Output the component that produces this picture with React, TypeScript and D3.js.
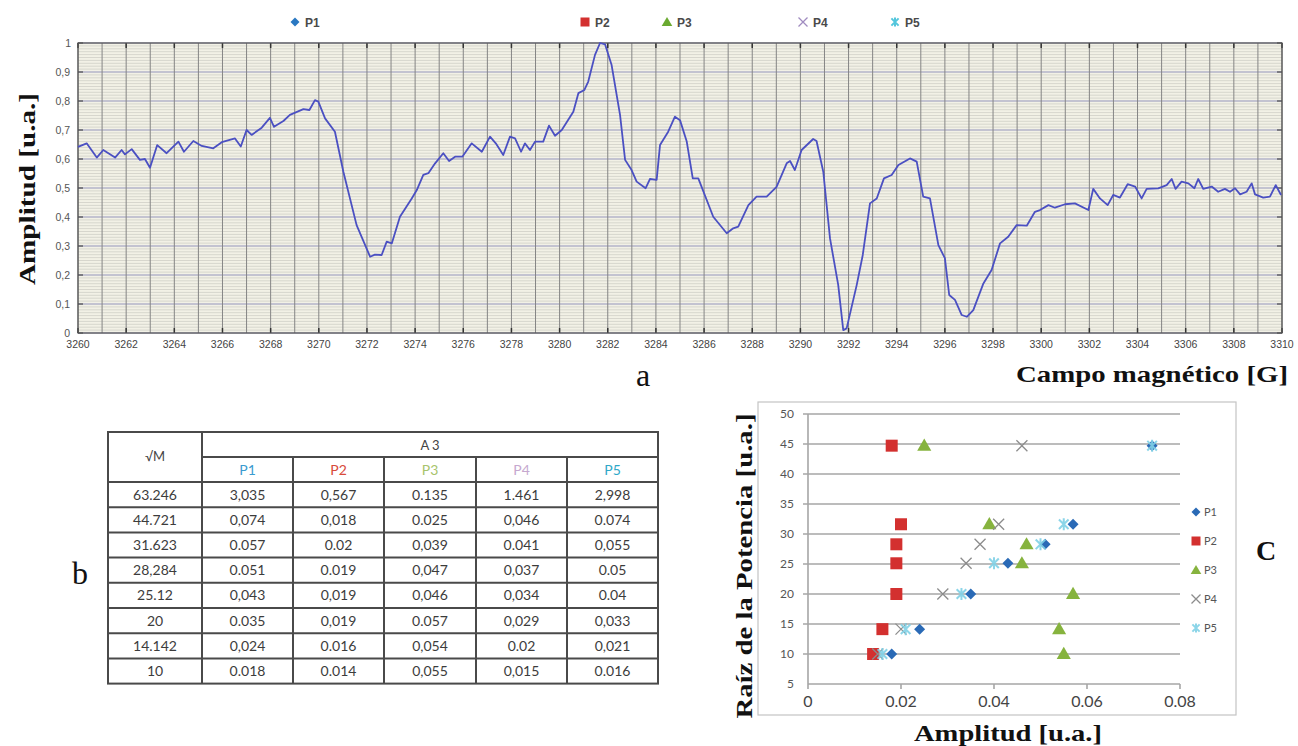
import React from 'react';
import * as d3 from 'd3';

// spectrum (a)
const FIELD = [3260.0, 3260.36, 3260.78, 3261.05, 3261.54, 3261.81, 3261.95, 3262.23, 3262.57, 3262.78, 3262.99, 3263.29, 3263.68, 3264.17, 3264.4, 3264.79, 3265.14, 3265.62, 3265.97, 3266.52, 3266.76, 3267.0, 3267.21, 3267.63, 3267.97, 3268.14, 3268.53, 3268.8, 3269.36, 3269.61, 3269.84, 3269.98, 3270.26, 3270.67, 3271.02, 3271.57, 3272.13, 3272.33, 3272.61, 3272.82, 3273.03, 3273.37, 3273.86, 3274.07, 3274.34, 3274.55, 3274.83, 3275.17, 3275.41, 3275.66, 3275.96, 3276.35, 3276.77, 3277.11, 3277.35, 3277.66, 3277.94, 3278.15, 3278.4, 3278.56, 3278.77, 3278.98, 3279.32, 3279.56, 3279.81, 3280.09, 3280.57, 3280.78, 3281.03, 3281.19, 3281.47, 3281.68, 3281.89, 3282.16, 3282.51, 3282.72, 3282.99, 3283.2, 3283.57, 3283.75, 3284.03, 3284.17, 3284.51, 3284.79, 3285.0, 3285.28, 3285.53, 3285.76, 3286.38, 3286.94, 3287.21, 3287.42, 3287.84, 3288.18, 3288.6, 3289.01, 3289.43, 3289.57, 3289.77, 3290.05, 3290.53, 3290.67, 3290.95, 3291.23, 3291.57, 3291.78, 3291.92, 3292.34, 3292.59, 3292.89, 3293.17, 3293.47, 3293.79, 3294.07, 3294.55, 3294.83, 3295.1, 3295.38, 3295.73, 3296.0, 3296.18, 3296.42, 3296.7, 3296.91, 3297.18, 3297.6, 3297.94, 3298.29, 3298.63, 3298.98, 3299.4, 3299.74, 3299.95, 3300.3, 3300.57, 3300.99, 3301.4, 3301.96, 3302.16, 3302.44, 3302.76, 3302.99, 3303.27, 3303.59, 3303.9, 3304.17, 3304.38, 3304.86, 3305.21, 3305.42, 3305.58, 3305.83, 3306.11, 3306.36, 3306.52, 3306.73, 3307.08, 3307.35, 3307.63, 3307.84, 3308.05, 3308.26, 3308.53, 3308.74, 3308.88, 3309.22, 3309.5, 3309.74, 3309.96];
const AMP = [0.642, 0.654, 0.605, 0.631, 0.605, 0.631, 0.616, 0.634, 0.597, 0.6, 0.57, 0.648, 0.62, 0.66, 0.625, 0.662, 0.645, 0.637, 0.658, 0.671, 0.643, 0.7, 0.683, 0.708, 0.742, 0.711, 0.731, 0.752, 0.772, 0.769, 0.803, 0.798, 0.74, 0.694, 0.556, 0.372, 0.263, 0.27, 0.269, 0.315, 0.309, 0.401, 0.464, 0.493, 0.545, 0.551, 0.585, 0.62, 0.593, 0.608, 0.608, 0.654, 0.625, 0.677, 0.654, 0.614, 0.677, 0.671, 0.625, 0.654, 0.631, 0.66, 0.66, 0.715, 0.68, 0.7, 0.763, 0.827, 0.838, 0.867, 0.959, 1.0, 0.995, 0.924, 0.752, 0.597, 0.562, 0.522, 0.499, 0.531, 0.528, 0.648, 0.694, 0.746, 0.734, 0.66, 0.533, 0.533, 0.401, 0.344, 0.361, 0.367, 0.441, 0.47, 0.47, 0.504, 0.585, 0.593, 0.562, 0.631, 0.669, 0.662, 0.556, 0.326, 0.166, 0.01, 0.016, 0.166, 0.269, 0.447, 0.464, 0.533, 0.545, 0.579, 0.602, 0.591, 0.47, 0.464, 0.303, 0.258, 0.131, 0.114, 0.062, 0.056, 0.079, 0.171, 0.217, 0.309, 0.332, 0.372, 0.37, 0.418, 0.424, 0.441, 0.432, 0.444, 0.447, 0.424, 0.497, 0.464, 0.441, 0.476, 0.467, 0.513, 0.505, 0.464, 0.497, 0.499, 0.51, 0.531, 0.497, 0.522, 0.516, 0.499, 0.531, 0.497, 0.505, 0.487, 0.497, 0.487, 0.499, 0.478, 0.487, 0.516, 0.478, 0.467, 0.47, 0.51, 0.476];

// table (b), as printed
const SQRT_M = ['63.246', '44.721', '31.623', '28,284', '25.12', '20', '14.142', '10'];
const P1 = ['3,035', '0,074', '0.057', '0.051', '0,043', '0.035', '0,024', '0.018'];
const P2 = ['0,567', '0,018', '0.02', '0.019', '0,019', '0,019', '0.016', '0.014'];
const P3 = ['0.135', '0.025', '0,039', '0,047', '0,046', '0.057', '0,054', '0,055'];
const P4 = ['1.461', '0,046', '0.041', '0,037', '0,034', '0,029', '0.02', '0,015'];
const P5 = ['2,998', '0.074', '0,055', '0.05', '0.04', '0,033', '0,021', '0.016'];
const SERIES = ['P1', 'P2', 'P3', 'P4', 'P5'];
const SERIES_TXT = [P1, P2, P3, P4, P5];

const num = (s: string) => +s.replace(',', '.');

const A_XTICKS = d3.range(3260, 3311, 2);
const A_YTICKS = d3.range(0, 11).map(d => d / 10);
const C_YTICKS = d3.range(5, 51, 5);
const C_XTICKS = [0, 0.02, 0.04, 0.06, 0.08];

const COLORS = ['#2a6ab6', '#d3302f', '#86b33e', '#8c8c8c', '#7fd0e6'];
const HEAD_COLORS = ['#3a9bd0', '#d84a3a', '#a8c46c', '#c6a8cf', '#2fa8c8'];
const LEG_COLORS = ['#2a78c2', '#d3302f', '#6aaa30', '#a08cc0', '#40c0d8'];

const serif = '"Liberation Serif", "Times New Roman", serif';
const sans = '"Liberation Sans", Arial, sans-serif';

function Marker({ k, cx, cy, s, color }: { k: number; cx: number; cy: number; s: number; color: string }) {
  const h = s / 2;
  if (k === 0) return <path transform={`translate(${cx},${cy})`} d={`M0,${-h}L${h},0L0,${h}L${-h},0Z`} fill={color} />;
  if (k === 1) return <path transform={`translate(${cx},${cy})`} d={d3.symbol().type(d3.symbolSquare).size(s * s)()!} fill={color} />;
  if (k === 2) return <path transform={`translate(${cx},${cy + 1})`} d={d3.symbol().type(d3.symbolTriangle).size(s * s * 0.6)()!} fill={color} />;
  if (k === 3)
    return <path transform={`translate(${cx},${cy})`} d={`M${-h},${-h}L${h},${h}M${-h},${h}L${h},${-h}`} stroke={color} strokeWidth={1.3} fill="none" />;
  return (
    <g transform={`translate(${cx},${cy})`} stroke={color} strokeWidth={2} fill="none" opacity={0.9}>
      <path d={`M${-h * 0.8},${-h * 0.8}L${h * 0.8},${h * 0.8}M${-h * 0.8},${h * 0.8}L${h * 0.8},${-h * 0.8}M0,${-h}L0,${h}`} />
    </g>
  );
}

export default function App() {
  // ---- chart a
  const x = d3.scaleLinear().domain([3260, 3310]).range([78, 1282]);
  const y = d3.scaleLinear().domain([0, 1]).range([333, 43]);
  const line = d3.line<number>().x((d, i) => x(FIELD[i])).y(d => y(d));
  const fmtA = (d: number) => (d === 0 || d === 1 ? String(d) : d3.format('.1f')(d).replace('.', ','));

  // ---- chart c
  const cx = d3.scaleLinear().domain([0, 0.08]).range([808, 1180]);
  const cy = d3.scaleLinear().domain([5, 50]).range([684, 414]);
  const rows = SQRT_M.map(num);

  // ---- table
  const colX = [108, 202, 293, 384, 476, 567, 658];
  const tTop = 432;
  const hRow = 25;
  const dRow = 25.2;
  const dTop = tTop + 2 * hRow;

  const legA = [295, 585, 667, 803, 895];

  return (
    <svg width={1298} height={746} style={{ position: 'absolute', left: 0, top: 0, background: '#fff' }}>
      {/* top legend */}
      {SERIES.map((s, i) => (
        <g key={s}>
          <Marker k={i} cx={legA[i]} cy={22} s={i === 0 ? 9 : 9} color={LEG_COLORS[i]} />
          <text x={legA[i] + 10} y={27} fontFamily={sans} fontSize={12} fontWeight="bold" fill="#4a4a4a">{s}</text>
        </g>
      ))}

      {/* chart a */}
      <rect x={78} y={43} width={1204} height={290} fill="#f2f1e6" />
      {d3.range(0, 101).map(i => (
        <line key={'m' + i} x1={78} x2={1282} y1={y(i / 100)} y2={y(i / 100)} stroke="#cfcfc6" strokeWidth={0.8} />
      ))}
      {A_YTICKS.map(t => (
        <line key={'M' + t} x1={78} x2={1282} y1={y(t)} y2={y(t)} stroke="#a2a4c8" strokeWidth={1.2} />
      ))}
      {d3.range(3260, 3311, 1).map(t => (
        <line key={'v' + t} x1={x(t)} x2={x(t)} y1={43} y2={333} stroke="#858585" strokeWidth={1} />
      ))}
      {A_XTICKS.map(t => (
        <g key={'t' + t}>
          <line x1={x(t)} x2={x(t)} y1={333} y2={328} stroke="#333" strokeWidth={1.5} />
          <line x1={x(t)} x2={x(t)} y1={43} y2={48} stroke="#333" strokeWidth={1.5} />
          <text x={x(t)} y={348} textAnchor="middle" fontFamily={sans} fontSize={10.5} fill="#444">{t}</text>
        </g>
      ))}
      {A_YTICKS.map(t => (
        <g key={'y' + t}>
          <line x1={78} x2={83} y1={y(t)} y2={y(t)} stroke="#333" />
          <line x1={1277} x2={1282} y1={y(t)} y2={y(t)} stroke="#333" />
          <text x={t === 1 ? 71 : 70} y={y(t) + 4} textAnchor="end" fontFamily={sans} fontSize={10.5} fill="#555">{fmtA(t)}</text>
        </g>
      ))}
      <rect x={78} y={43} width={1204} height={290} fill="none" stroke="#555" strokeWidth={1.2} />
      <path d={line(AMP)!} fill="none" stroke="#4b50c2" strokeWidth={1.8} strokeLinejoin="round" />

      <text transform="translate(35,189) rotate(-90)" textAnchor="middle" fontFamily={serif} fontWeight="bold" fontSize={24}
        textLength={192} lengthAdjust="spacingAndGlyphs" fill="#111">Amplitud [u.a.]</text>
      <text x={643} y={386} textAnchor="middle" fontFamily={serif} fontSize={32} fill="#111">a</text>
      <text x={1288} y={382} textAnchor="end" fontFamily={serif} fontWeight="bold" fontSize={24}
        textLength={272} lengthAdjust="spacingAndGlyphs" fill="#111">Campo magnético [G]</text>

      {/* table b */}
      <text x={80} y={584} textAnchor="middle" fontFamily={serif} fontSize={32} fill="#111">b</text>
      <g stroke="#4a4a4a" strokeWidth={2} fill="none">
        <rect x={colX[0]} y={tTop} width={colX[6] - colX[0]} height={dTop + SQRT_M.length * dRow - tTop} />
        <line x1={colX[1]} x2={colX[6]} y1={tTop + hRow} y2={tTop + hRow} />
        {d3.range(0, SQRT_M.length).map(i => (
          <line key={'r' + i} x1={colX[0]} x2={colX[6]} y1={dTop + i * dRow} y2={dTop + i * dRow} />
        ))}
        <line x1={colX[1]} x2={colX[1]} y1={tTop} y2={dTop + SQRT_M.length * dRow} />
        {colX.slice(2, 6).map(c => (
          <line key={'c' + c} x1={c} x2={c} y1={tTop + hRow} y2={dTop + SQRT_M.length * dRow} />
        ))}
      </g>
      <text x={(colX[0] + colX[1]) / 2} y={tTop + hRow + 4} textAnchor="middle" fontFamily="Lato, sans-serif" fontSize={13} fill="#444">√M</text>
      <text x={(colX[1] + colX[6]) / 2} y={tTop + hRow / 2 + 5} textAnchor="middle" fontFamily="Lato, sans-serif" fontSize={13} fill="#444">A 3</text>
      {SERIES.map((s, j) => (
        <text key={'h' + s} x={(colX[j + 1] + colX[j + 2]) / 2} y={tTop + hRow * 1.5 + 5} textAnchor="middle" fontFamily="Lato, sans-serif"
          fontSize={14} fill={HEAD_COLORS[j]}>{s}</text>
      ))}
      {SQRT_M.map((m, i) => (
        <g key={'row' + i} fontFamily="Lato, sans-serif" fontSize={14} fill="#3c3c3c" textAnchor="middle">
          <text x={(colX[0] + colX[1]) / 2} y={dTop + i * dRow + dRow / 2 + 5}>{m}</text>
          {SERIES_TXT.map((col, j) => (
            <text key={j} x={(colX[j + 1] + colX[j + 2]) / 2} y={dTop + i * dRow + dRow / 2 + 5}>{col[i]}</text>
          ))}
        </g>
      ))}

      {/* chart c */}
      <rect x={758} y={402} width={478} height={313} fill="#fff" stroke="#c4c4c4" strokeWidth={1.2} />
      {C_YTICKS.map(t => (
        <g key={'cy' + t}>
          <line x1={t === 5 ? 808 : 803} x2={1180} y1={cy(t)} y2={cy(t)} stroke="#a6a6a6" strokeWidth={1.6} />
          <text x={794} y={cy(t) + 4} textAnchor="end" fontFamily="Lato, sans-serif" fontSize={12} fill="#555">{t}</text>
        </g>
      ))}
      <line x1={808} x2={808} y1={cy(50)} y2={cy(5)} stroke="#a6a6a6" strokeWidth={1.6} />
      {C_XTICKS.map(t => (
        <g key={'cx' + t}>
          <line x1={cx(t)} x2={cx(t)} y1={cy(5)} y2={cy(5) + 5} stroke="#a6a6a6" strokeWidth={1.6} />
          <text x={cx(t)} y={707} textAnchor="middle" fontFamily="Lato, sans-serif" fontSize={16} fill="#444">{t === 0 ? '0' : String(t)}</text>
        </g>
      ))}
      {SERIES_TXT.map((col, j) =>
        col.map((v, i) =>
          num(v) <= 0.08 ? <Marker key={j + '-' + i} k={j} cx={cx(num(v))} cy={cy(rows[i])} s={j === 3 ? 11 : j === 0 ? 11 : 12} color={COLORS[j]} /> : null
        )
      )}
      {SERIES.map((s, i) => (
        <g key={'lc' + s}>
          <Marker k={i} cx={1196} cy={512 + i * 29} s={9} color={COLORS[i]} />
          <text x={1204} y={516 + i * 29} fontFamily="Lato, sans-serif" fontSize={11} fill="#555">{s}</text>
        </g>
      ))}
      <text x={1266} y={560} textAnchor="middle" fontFamily={serif} fontWeight="bold" fontSize={28} fill="#111">C</text>
      <text transform="translate(752,566) rotate(-90)" textAnchor="middle" fontFamily={serif} fontWeight="bold" fontSize={24}
        textLength={305} lengthAdjust="spacingAndGlyphs" fill="#111">Raíz de la Potencia [u.a.]</text>
      <text x={1008} y={741} textAnchor="middle" fontFamily={serif} fontWeight="bold" fontSize={24}
        textLength={188} lengthAdjust="spacingAndGlyphs" fill="#111">Amplitud [u.a.]</text>
    </svg>
  );
}
